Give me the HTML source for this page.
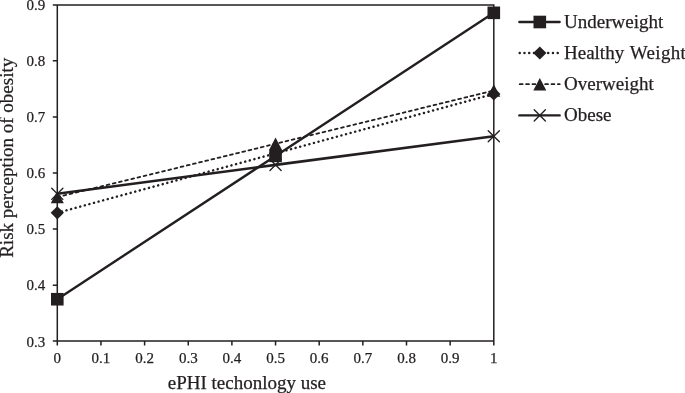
<!DOCTYPE html>
<html><head><meta charset="utf-8"><style>
html,body{margin:0;padding:0;background:#fff;}
body{width:685px;height:393px;overflow:hidden;}
svg{display:block;will-change:transform;}
text{font-family:"Liberation Serif",serif;fill:#231f20;stroke:#231f20;stroke-width:0.25px;}
.tk{font-size:15px;}
.lg{font-size:19px;}
.tt{font-size:19px;}
</style></head><body>
<svg width="685" height="393" viewBox="0 0 685 393">
<path d="M52.80,5.0H493.80V345.60M57.30,5.0V345.60M52.80,341.1H493.80" stroke="#231f20" stroke-width="1.5" fill="none"/>
<path d="M52.80,285.20H57.30M52.80,229.10H57.30M52.80,173.00H57.30M52.80,116.90H57.30M52.80,60.80H57.30M100.95,341.1V345.60M144.60,341.1V345.60M188.25,341.1V345.60M231.90,341.1V345.60M275.55,341.1V345.60M319.20,341.1V345.60M362.85,341.1V345.60M406.50,341.1V345.60M450.15,341.1V345.60" stroke="#231f20" stroke-width="1.5" fill="none"/>
<text x="45.2" y="346.50" text-anchor="end" class="tk">0.3</text>
<text x="45.2" y="290.40" text-anchor="end" class="tk">0.4</text>
<text x="45.2" y="234.30" text-anchor="end" class="tk">0.5</text>
<text x="45.2" y="178.20" text-anchor="end" class="tk">0.6</text>
<text x="45.2" y="122.10" text-anchor="end" class="tk">0.7</text>
<text x="45.2" y="66.00" text-anchor="end" class="tk">0.8</text>
<text x="45.2" y="9.90" text-anchor="end" class="tk">0.9</text>
<text x="57.30" y="363" text-anchor="middle" class="tk">0</text>
<text x="100.95" y="363" text-anchor="middle" class="tk">0.1</text>
<text x="144.60" y="363" text-anchor="middle" class="tk">0.2</text>
<text x="188.25" y="363" text-anchor="middle" class="tk">0.3</text>
<text x="231.90" y="363" text-anchor="middle" class="tk">0.4</text>
<text x="275.55" y="363" text-anchor="middle" class="tk">0.5</text>
<text x="319.20" y="363" text-anchor="middle" class="tk">0.6</text>
<text x="362.85" y="363" text-anchor="middle" class="tk">0.7</text>
<text x="406.50" y="363" text-anchor="middle" class="tk">0.8</text>
<text x="450.15" y="363" text-anchor="middle" class="tk">0.9</text>
<text x="493.80" y="363" text-anchor="middle" class="tk">1</text>
<polyline points="57.30,212.83 275.55,153.37 493.80,93.90" stroke="#231f20" stroke-width="2.5" stroke-linecap="round" stroke-dasharray="0.01 4.74" fill="none"/>
<polyline points="57.30,197.12 275.55,143.83 493.80,90.53" stroke="#231f20" stroke-width="1.8" stroke-linecap="round" stroke-dasharray="2.8 3.55" fill="none"/>
<polyline points="57.30,193.76 275.55,164.87 493.80,136.25" stroke="#231f20" stroke-width="2.6" fill="none"/>
<polyline points="57.30,299.23 275.55,155.89 493.80,12.83" stroke="#231f20" stroke-width="2.4" fill="none"/>
<path d="M51.70,188.16L62.90,199.36M62.90,188.16L51.70,199.36" stroke="#231f20" stroke-width="1.35" stroke-linecap="round" fill="none"/>
<path d="M269.95,159.27L281.15,170.47M281.15,159.27L269.95,170.47" stroke="#231f20" stroke-width="1.35" stroke-linecap="round" fill="none"/>
<path d="M488.20,130.65L499.40,141.85M499.40,130.65L488.20,141.85" stroke="#231f20" stroke-width="1.35" stroke-linecap="round" fill="none"/>
<polygon points="57.30,190.87 63.80,203.37 50.80,203.37" fill="#231f20"/>
<polygon points="275.55,137.58 282.05,150.08 269.05,150.08" fill="#231f20"/>
<polygon points="493.80,84.28 500.30,96.78 487.30,96.78" fill="#231f20"/>
<polygon points="57.30,206.23 63.95,212.83 57.30,219.43 50.65,212.83" fill="#231f20"/>
<polygon points="275.55,146.77 282.20,153.37 275.55,159.97 268.90,153.37" fill="#231f20"/>
<polygon points="493.80,87.30 500.45,93.90 493.80,100.50 487.15,93.90" fill="#231f20"/>
<rect x="51.00" y="292.93" width="12.6" height="12.6" fill="#231f20"/>
<rect x="269.25" y="149.59" width="12.6" height="12.6" fill="#231f20"/>
<rect x="487.50" y="6.53" width="12.6" height="12.6" fill="#231f20"/>
<line x1="519.4" y1="22.0" x2="559.6" y2="22.0" stroke="#231f20" stroke-width="2.4" stroke-linecap="round"/>
<rect x="533.50" y="15.70" width="12.6" height="12.6" fill="#231f20"/>
<text x="564" y="28.00" class="lg">Underweight</text>
<line x1="519.7" y1="53.0" x2="559.8" y2="53.0" stroke="#231f20" stroke-width="2.5" stroke-linecap="round" stroke-dasharray="0.01 4.74"/>
<polygon points="539.80,46.40 546.45,53.00 539.80,59.60 533.15,53.00" fill="#231f20"/>
<text x="564" y="59.00" class="lg">Healthy <tspan dx="0.8" style="letter-spacing:0.35px">Weight</tspan></text>
<line x1="519.8" y1="84.2" x2="559.7" y2="84.2" stroke="#231f20" stroke-width="1.8" stroke-linecap="round" stroke-dasharray="2.8 3.55"/>
<polygon points="539.80,77.95 546.30,90.45 533.30,90.45" fill="#231f20"/>
<text x="564" y="90.20" class="lg">Overweight</text>
<line x1="519.4" y1="115.4" x2="559.6" y2="115.4" stroke="#231f20" stroke-width="2.4" stroke-linecap="round"/>
<path d="M534.20,109.80L545.40,121.00M545.40,109.80L534.20,121.00" stroke="#231f20" stroke-width="1.35" stroke-linecap="round" fill="none"/>
<text x="564" y="121.40" class="lg">Obese</text>
<text x="246.9" y="389.3" text-anchor="middle" class="tt">ePHI techonlogy use</text>
<text transform="translate(13.3,157.8) rotate(-90)" text-anchor="middle" class="tt">Risk perception of obesity</text>
</svg>
</body></html>
